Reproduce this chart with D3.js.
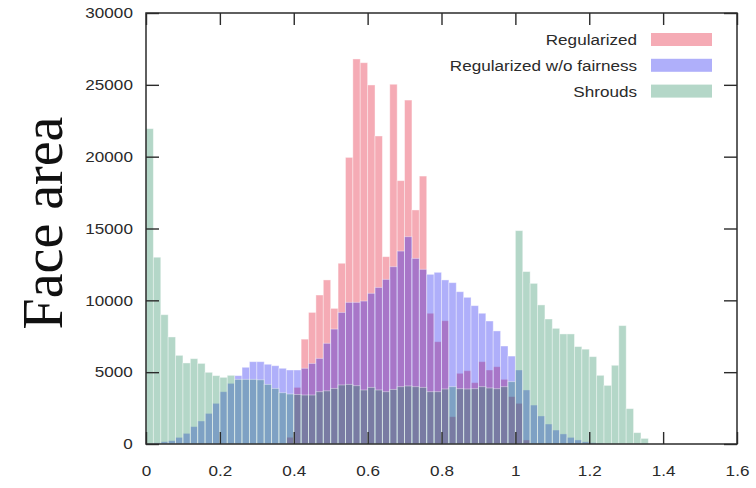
<!DOCTYPE html>
<html>
<head>
<meta charset="utf-8">
<script src="https://cdn.jsdelivr.net/npm/d3@7/dist/d3.min.js"></script>
<style>
  html, body { margin: 0; padding: 0; background: #fff; }
  svg { display: block; }
  .tick text { font-family: "Liberation Sans", Arial, Helvetica, sans-serif; font-size: 15px; fill: #2a2a2a; }
</style>
</head>
<body>
<svg id="chart" width="756" height="488"></svg>
<script>
// Histogram bins: width 0.02, bin i starts at i * 0.02
const binWidth = 0.02;

const regularized = [
  0, 0, 0, 0, 0, 0, 0, 0, 0, 0,
  0, 0, 0, 0, 0, 0, 0, 0, 0, 470,
  3940, 7300, 9160, 10370, 11420, 9440, 12580, 19950, 26800, 26540,
  24990, 21440, 13040, 25040, 18330, 23940, 16290, 18650, 9100, 7120,
  8580, 1900, 4920, 5100, 4270, 5730, 5150, 5380, 4500, 3300,
  2830, 280
];

const withoutFairness = [
  30, 80, 160, 230, 460, 740, 1210, 1600, 2130, 2830,
  3640, 4220, 4760, 5340, 5730, 5730, 5550, 5450, 5270, 5150,
  5150, 5270, 5610, 5960, 7010, 8000, 9160, 9860, 9860, 9950,
  10490, 10900, 11460, 12340, 13430, 14430, 12920, 12160, 11810, 11950,
  11420, 11230, 10600, 10210, 9630, 9100, 8560, 7870, 6820, 6120,
  5150, 3760, 2710, 1950, 1390, 970, 700, 460, 280, 150,
  90, 40
];

const shrouds = [
  21950, 13000, 9000, 7450, 6170, 5640, 5940, 5610, 4990, 4760,
  4640, 4780, 4500, 4500, 4500, 4470, 4150, 3870, 3570, 3480,
  3450, 3410, 3410, 3640, 3700, 3870, 4110, 4150, 4060, 3760,
  3940, 3760, 3640, 3800, 3990, 4040, 3990, 3940, 3640, 3640,
  3830, 3990, 3850, 3830, 3850, 3990, 3900, 3850, 3990, 4340,
  14850, 12000, 11180, 9680, 8700, 8050, 7660, 7660, 6780, 6600,
  6080, 4780, 4080, 5480, 8240, 2460, 790, 390
];

const seriesNames = ["Regularized", "Regularized w/o fairness", "Shrouds"];
const seriesColors = ["#e1001e", "#0d0df0", "#1c8658"];
const seriesData = [regularized, withoutFairness, shrouds];

const xTicks = [0, 0.2, 0.4, 0.6, 0.8, 1, 1.2, 1.4, 1.6];
const yTicks = [0, 5000, 10000, 15000, 20000, 25000, 30000];

const fillAlpha = 0.33;
const textStretch = 1.14;

const margin = { left: 146, right: 19, top: 13, bottom: 44 };
const W = 756, H = 488;
const svg = d3.select("#chart");

const x = d3.scaleLinear().domain([0, 1.6]).range([margin.left, W - margin.right]);
const y = d3.scaleLinear().domain([0, 30000]).range([H - margin.bottom, margin.top]);

// Bars, one layer per series (later layers drawn on top)
seriesData.forEach((vals, si) => {
  svg.append("g")
    .selectAll("rect")
    .data(vals.map((v, i) => ({ x0: i * binWidth, v })).filter(d => d.v > 0))
    .join("rect")
      .attr("x", d => x(d.x0))
      .attr("width", d => x(d.x0 + binWidth) - x(d.x0))
      .attr("y", d => y(d.v))
      .attr("height", d => y(0) - y(d.v))
      .attr("fill", seriesColors[si])
      .attr("fill-opacity", fillAlpha)
      .attr("stroke", "#ffffff")
      .attr("stroke-opacity", 0.45)
      .attr("stroke-width", 0.9);
});

// Axes with inward ticks on all four sides
const axisColor = "#2b2b2b";
function styleAxis(g) {
  g.select(".domain").remove();
  g.selectAll(".tick line").attr("stroke", axisColor).attr("stroke-width", 1.4);
}

svg.append("g")
  .attr("transform", `translate(0,${y(0)})`)
  .call(d3.axisBottom(x).tickValues(xTicks).tickFormat(d3.format("")).tickSizeInner(-12).tickSizeOuter(0).tickPadding(21))
  .call(styleAxis)
  .call(g => g.selectAll(".tick text").attr("transform", `scale(${textStretch},1)`));

svg.append("g")
  .attr("transform", `translate(0,${y(30000)})`)
  .call(d3.axisTop(x).tickValues(xTicks).tickFormat("").tickSizeInner(-12).tickSizeOuter(0))
  .call(styleAxis);

svg.append("g")
  .attr("transform", `translate(${x(0)},0)`)
  .call(d3.axisLeft(y).tickValues(yTicks).tickFormat(d3.format("d")).tickSizeInner(-13).tickSizeOuter(0).tickPadding(11.5))
  .call(styleAxis)
  .call(g => g.selectAll(".tick text").attr("transform", `scale(${textStretch},1)`));

svg.append("g")
  .attr("transform", `translate(${x(1.6)},0)`)
  .call(d3.axisRight(y).tickValues(yTicks).tickFormat("").tickSizeInner(-13).tickSizeOuter(0))
  .call(styleAxis);

// Plot frame
svg.append("rect")
  .attr("x", x(0)).attr("y", y(30000))
  .attr("width", x(1.6) - x(0)).attr("height", y(0) - y(30000))
  .attr("fill", "none").attr("stroke", axisColor).attr("stroke-width", 1.5);

// Legend
const legend = svg.append("g");
seriesNames.forEach((name, i) => {
  const cy = 39.5 + i * 25.8;
  legend.append("text")
    .attr("transform", `translate(637,${cy + 5.5}) scale(${textStretch},1)`)
    .attr("text-anchor", "end")
    .style("font-family", '"Liberation Sans", Arial, Helvetica, sans-serif')
    .style("font-size", "15px")
    .attr("fill", "#2a2a2a")
    .text(name);
  legend.append("rect")
    .attr("x", 651).attr("y", cy - 6.5)
    .attr("width", 61).attr("height", 13)
    .attr("fill", seriesColors[i])
    .attr("fill-opacity", fillAlpha);
});

// Y axis title
svg.append("text")
  .attr("transform", "translate(62,223) rotate(-90)")
  .attr("text-anchor", "middle")
  .style("font-family", '"Liberation Serif", "Times New Roman", Times, serif')
  .style("font-size", "56px")
  .attr("fill", "#111")
  .text("Face area");
</script>
</body>
</html>
